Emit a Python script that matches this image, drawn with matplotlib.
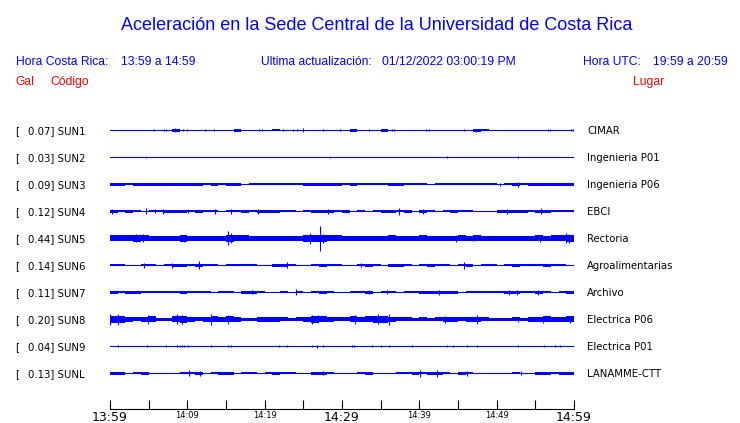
import matplotlib.pyplot as plt
import matplotlib.transforms as mtransforms

# stations, top to bottom
codes = ['SUN1', 'SUN2', 'SUN3', 'SUN4', 'SUN5', 'SUN6', 'SUN7', 'SUN8', 'SUN9', 'SUNL']
places = ['CIMAR', 'Ingenieria P01', 'Ingenieria P06', 'EBCI', 'Rectoria',
          'Agroalimentarias', 'Archivo', 'Electrica P06', 'Electrica P01', 'LANAMME-CTT']
peaks = [0.07, 0.03, 0.09, 0.12, 0.44, 0.14, 0.11, 0.20, 0.04, 0.13]

# envelope (half amplitude, Gal) for each minute 13:59 -> 14:59
env_sun1 = [0, 0, 0, 0, 0, 0, 0, 0, 0.05, 0,
            0, 0, 0, 0, 0, 0, 0.05, 0, 0, 0,
            0, 0.03, 0, 0, 0, 0, 0, 0, 0, 0,
            0, 0.05, 0, 0, 0, 0.05, 0, 0, 0, 0,
            0, 0, 0, 0, 0, 0, 0.02, 0.05, 0.04, 0,
            0, 0, 0, 0, 0, 0, 0, 0, 0, 0]
env_sun2 = [0, 0, 0, 0, 0, 0, 0, 0, 0, 0,
            0, 0, 0, 0, 0, 0, 0, 0, 0, 0,
            0, 0, 0, 0, 0, 0, 0, 0, 0, 0,
            0, 0, 0, 0, 0, 0, 0, 0, 0, 0,
            0, 0, 0, 0, 0, 0, 0, 0, 0, 0,
            0, 0, 0, 0, 0, 0, 0, 0, 0, 0]
env_sun3 = [0.045, 0.045, 0.04, 0.05, 0.05, 0.05, 0.05, 0.045, 0.05, 0.05,
            0.05, 0.05, 0.04, 0.045, 0.04, 0.05, 0.05, 0.02, 0.03, 0.035,
            0.035, 0.04, 0.04, 0.03, 0.03, 0.045, 0.045, 0.045, 0.05, 0.045,
            0.04, 0.045, 0.03, 0.04, 0.035, 0.04, 0.045, 0.045, 0.035, 0.04,
            0.03, 0.015, 0.03, 0.035, 0.04, 0.035, 0.04, 0.04, 0.04, 0.035,
            0.02, 0.03, 0.045, 0.03, 0.045, 0.045, 0.045, 0.045, 0.05, 0.05]
env_sun4 = [0.05, 0.04, 0.045, 0.04, 0.02, 0.03, 0.03, 0.05, 0.045, 0.05,
            0.04, 0.05, 0.04, 0.035, 0.02, 0.04, 0.04, 0.045, 0.03, 0.05,
            0.05, 0.045, 0.04, 0.035, 0.02, 0.035, 0.05, 0.05, 0.045, 0.04,
            0.045, 0.02, 0.04, 0.02, 0.04, 0.045, 0.05, 0.04, 0.045, 0.02,
            0.05, 0.03, 0.015, 0.04, 0.045, 0.04, 0.04, 0.02, 0.02, 0.02,
            0.045, 0.05, 0.045, 0.045, 0.035, 0.05, 0.05, 0.04, 0.04, 0.035]
env_sun5 = [0.10, 0.10, 0.11, 0.12, 0.11, 0.08, 0.09, 0.08, 0.08, 0.12,
            0.09, 0.08, 0.09, 0.08, 0.08, 0.13, 0.11, 0.10, 0.09, 0.08,
            0.09, 0.09, 0.08, 0.09, 0.08, 0.12, 0.13, 0.12, 0.10, 0.10,
            0.09, 0.09, 0.08, 0.08, 0.08, 0.09, 0.10, 0.08, 0.08, 0.09,
            0.10, 0.09, 0.08, 0.08, 0.09, 0.10, 0.08, 0.10, 0.08, 0.08,
            0.09, 0.08, 0.08, 0.08, 0.09, 0.11, 0.09, 0.10, 0.10, 0.12]
env_sun6 = [0.03, 0.03, 0.02, 0.01, 0.04, 0.03, 0.02, 0.04, 0.05, 0.05,
            0.03, 0.05, 0.03, 0.03, 0.02, 0.04, 0.03, 0.03, 0.03, 0.02,
            0.02, 0.045, 0.05, 0.03, 0.02, 0.01, 0.04, 0.045, 0.03, 0.03,
            0.02, 0.01, 0.03, 0.045, 0.04, 0.02, 0.045, 0.045, 0.03, 0.02,
            0.04, 0.045, 0.03, 0.03, 0.02, 0.04, 0.045, 0.02, 0.03, 0.03,
            0.01, 0.04, 0.045, 0.03, 0.03, 0.03, 0.045, 0.03, 0.03, 0.02]
env_sun7 = [0.045, 0.03, 0.045, 0.045, 0.03, 0.035, 0.03, 0.04, 0.035, 0.045,
            0.04, 0.04, 0.03, 0.02, 0.04, 0.04, 0.02, 0.045, 0.05, 0.04,
            0.02, 0.02, 0.035, 0.02, 0.03, 0.01, 0.04, 0.045, 0.04, 0.02,
            0.02, 0.03, 0.04, 0.045, 0.02, 0.04, 0.04, 0.01, 0.035, 0.035,
            0.045, 0.05, 0.05, 0.045, 0.045, 0.02, 0.04, 0.03, 0.03, 0.03,
            0.035, 0.05, 0.05, 0.035, 0.035, 0.05, 0.035, 0.02, 0.035, 0.045]
env_sun8 = [0.13, 0.12, 0.09, 0.07, 0.08, 0.11, 0.06, 0.06, 0.11, 0.12,
            0.10, 0.07, 0.09, 0.11, 0.09, 0.11, 0.08, 0.06, 0.06, 0.09,
            0.08, 0.09, 0.07, 0.06, 0.07, 0.09, 0.12, 0.11, 0.08, 0.07,
            0.07, 0.11, 0.08, 0.11, 0.12, 0.13, 0.10, 0.07, 0.07, 0.06,
            0.07, 0.06, 0.07, 0.10, 0.10, 0.07, 0.09, 0.10, 0.07, 0.06,
            0.06, 0.06, 0.07, 0.06, 0.09, 0.10, 0.11, 0.09, 0.10, 0.11]
env_sun9 = [0, 0, 0, 0, 0, 0, 0, 0, 0, 0,
            0, 0, 0, 0, 0, 0, 0, 0, 0, 0,
            0, 0, 0, 0, 0, 0, 0, 0, 0, 0,
            0, 0, 0, 0, 0, 0, 0, 0, 0, 0,
            0, 0, 0, 0, 0, 0, 0, 0, 0, 0,
            0, 0, 0, 0, 0, 0, 0, 0, 0, 0]
env_sunl = [0.05, 0.045, 0.02, 0.035, 0.045, 0.02, 0.02, 0.02, 0.02, 0.03,
            0.04, 0.045, 0.02, 0.04, 0.045, 0.045, 0.02, 0.03, 0.03, 0.02,
            0.03, 0.045, 0.04, 0.03, 0.01, 0.01, 0.045, 0.045, 0.03, 0.02,
            0.02, 0.01, 0.03, 0.045, 0.02, 0.01, 0.01, 0.035, 0.03, 0.045,
            0.04, 0.045, 0.045, 0.03, 0.02, 0.045, 0.035, 0.01, 0.02, 0.02,
            0.01, 0.01, 0.035, 0.01, 0.02, 0.045, 0.045, 0.035, 0.045, 0.045]

# short peaks (minute, half amplitude in Gal)
spk_sun1 = [(5.7, 0.04), (7.0, 0.04), (7.3, 0.04), (8.4, 0.07), (8.75, 0.03), (9.5, 0.03),
            (9.9, 0.03), (12.3, 0.04), (13.5, 0.03), (19.3, 0.04), (19.6, 0.03), (22.4, 0.04),
            (23.7, 0.04), (24.2, 0.03), (25.0, 0.07), (27.5, 0.04), (29.7, 0.03), (33.5, 0.04),
            (36.5, 0.04), (36.7, 0.03), (40.8, 0.03), (41.2, 0.03), (45.8, 0.04), (47.3, 0.06),
            (56.7, 0.03), (56.9, 0.03), (59.6, 0.04), (59.9, 0.04)]
spk_sun2 = [(4.65, 0.025), (28.5, 0.025), (43.6, 0.035), (52.7, 0.035)]
spk_sun3 = [(50.4, 0.05), (52.7, 0.08)]
spk_sun4 = [(0.3, 0.08), (4.7, 0.11), (5.8, 0.07), (6.8, 0.08), (10.1, 0.07), (13.6, 0.08),
            (15.6, 0.08), (19.1, 0.08), (28.2, 0.08), (37.4, 0.12), (40.5, 0.08), (51.3, 0.08),
            (55.7, 0.11)]
spk_sun5 = [(3.3, 0.14), (4.3, 0.14), (9.6, 0.13), (15.2, 0.25), (15.6, 0.18), (25.8, 0.2),
            (27.2, 0.44), (27.6, 0.16), (44.8, 0.12), (47.0, 0.11), (55.6, 0.13), (59.0, 0.18),
            (59.4, 0.15)]
spk_sun6 = [(4.4, 0.08), (8.0, 0.08), (11.5, 0.14), (22.9, 0.11), (32.5, 0.07), (45.8, 0.12)]
spk_sun7 = [(18.3, 0.07), (24.1, 0.11), (33.5, 0.07), (35.8, 0.07), (42.5, 0.08), (51.6, 0.1),
            (52.6, 0.08), (55.4, 0.1)]
spk_sun8 = [(0.0, 0.19), (1.0, 0.19), (4.9, 0.15), (8.7, 0.18), (9.3, 0.15), (13.1, 0.19),
            (15.2, 0.17), (26.1, 0.15), (26.9, 0.14), (31.7, 0.16), (34.7, 0.18), (36.1, 0.2),
            (43.3, 0.12), (47.4, 0.15), (52.8, 0.1), (56.0, 0.13), (59.5, 0.12)]
spk_sun9 = [(1.0, 0.04), (4.8, 0.03), (7.3, 0.03), (8.6, 0.04), (9.1, 0.03), (9.3, 0.03),
            (9.6, 0.04), (10.1, 0.03), (13.1, 0.04), (15.3, 0.04), (15.6, 0.04), (21.9, 0.04),
            (22.9, 0.04), (26.1, 0.03), (26.8, 0.05), (27.5, 0.04), (31.3, 0.03), (31.6, 0.03),
            (33.9, 0.03), (35.1, 0.04), (36.1, 0.03), (39.0, 0.04), (43.6, 0.04), (44.3, 0.03),
            (46.2, 0.04), (47.4, 0.04), (52.8, 0.04), (56.1, 0.03), (57.6, 0.04), (58.2, 0.03)]
spk_sunl = [(10.2, 0.11), (11.6, 0.08), (27.6, 0.07), (40.1, 0.13), (42.3, 0.12), (46.1, 0.09),
            (53.1, 0.07)]

envs = [env_sun1, env_sun2, env_sun3, env_sun4, env_sun5,
        env_sun6, env_sun7, env_sun8, env_sun9, env_sunl]
spikes = [spk_sun1, spk_sun2, spk_sun3, spk_sun4, spk_sun5,
          spk_sun6, spk_sun7, spk_sun8, spk_sun9, spk_sunl]

tick_min = [0, 5, 10, 15, 20, 25, 30, 35, 40, 45, 50, 55, 60]
tick_lab = ['13:59', '', '14:09', '', '14:19', '', '14:29', '', '14:39', '', '14:49', '', '14:59']
big_lab = ['13:59', '14:29', '14:59']

W, H = 740, 423
blue = '#0000ff'
gal = 28 / 27  # trace rows are 27 px apart, 1 Gal ~ 28 px

fig = plt.figure(figsize=(W / 100, H / 100), dpi=100)
top_px, bot_px = 110, 409.3
ax = fig.add_axes([110 / W, (H - bot_px) / H, 464 / W, (bot_px - top_px) / H])
ax.set_xlim(0, 60)
ax.set_ylim(-(bot_px - 373.3) / 27, 9 + (130.3 - top_px) / 27)

minutes = list(range(61))
for k in range(len(codes)):
    row = 9 - k
    env = envs[k]
    ax.stairs([row + e * gal for e in env], minutes,
              baseline=[row - e * gal for e in env], fill=True, color=blue, lw=0)
    ax.plot([0, 60], [row, row], color=blue, lw=0.8)
    if spikes[k]:
        xs = [s[0] for s in spikes[k]]
        ax.vlines(xs, [row - s[1] * gal for s in spikes[k]],
                  [row + s[1] * gal for s in spikes[k]], color=blue, lw=0.8)

for s in ['top', 'left', 'right']:
    ax.spines[s].set_visible(False)
ax.spines['bottom'].set_linewidth(0.8)
ax.set_yticks([])
ax.set_xticks(tick_min)
ax.set_xticklabels(tick_lab)
ax.tick_params(axis='x', direction='in', length=6.5, width=0.8, pad=1.5)
for t in ax.get_xticklabels():
    t.set_fontsize(9 if t.get_text() in big_lab else 6)
    t.set_family('DejaVu Sans')

# station labels
tr = mtransforms.blended_transform_factory(fig.transFigure, ax.transData)
for k in range(len(codes)):
    row = 9 - k - 3.7 / 27
    ax.text(15 / W, row, '[', transform=tr, fontsize=7.3, va='baseline')
    ax.text(27.7 / W, row, '%.2f] %s' % (peaks[k], codes[k]), transform=tr,
            fontsize=7.3, va='baseline')
    ax.text(587 / W, row, places[k], transform=tr, fontsize=7.3, va='baseline')

# header
hf = 'Liberation Sans'
def htext(x, y, s, size, color):
    fig.text(x / W, 1 - y / H, s, fontsize=size, color=color, family=hf, va='baseline')

fig.text(376.5 / W, 1 - 30 / H, 'Aceleración en la Sede Central de la Universidad de Costa Rica',
         fontsize=13, color=blue, family=hf, ha='center', va='baseline')
htext(15.7, 65, 'Hora Costa Rica:', 8.7, blue)
htext(120.7, 65, '13:59 a 14:59', 8.7, blue)
htext(261, 65, 'Ultima actualización:', 8.7, blue)
htext(381.5, 65, '01/12/2022 03:00:19 PM', 8.7, blue)
htext(583, 65, 'Hora UTC:', 8.7, blue)
htext(653, 65, '19:59 a 20:59', 8.7, blue)
htext(15.7, 85, 'Gal', 8.7, 'red')
htext(50.7, 85, 'Código', 8.7, 'red')
htext(633, 85, 'Lugar', 8.7, 'red')

fig.savefig('out.png', dpi=100)
